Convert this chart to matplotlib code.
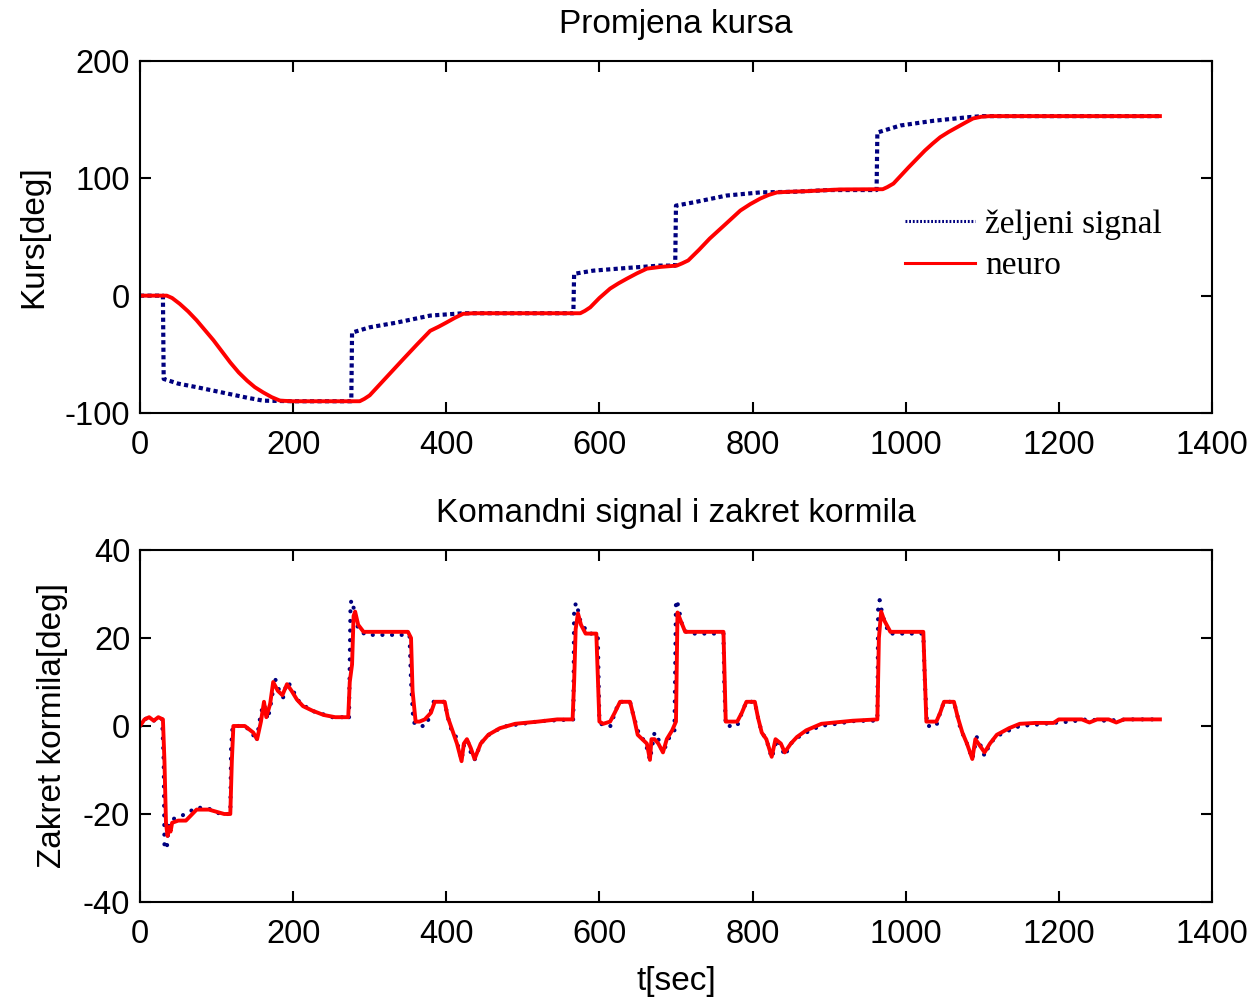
import matplotlib
matplotlib.use("Agg")
import matplotlib.pyplot as plt
from matplotlib.lines import Line2D

# --- course (top panel) ---
course_ref_t = [0, 30, 31, 50, 74, 96, 118, 140, 161, 200, 276, 277, 300, 335, 379, 422,
                566, 567, 592, 636, 679, 699, 700, 723, 766, 810, 853, 900, 962, 963,
                993, 1036, 1080, 1100, 1332]
course_ref = [0, 0, -71, -75, -78, -81, -84, -87, -89.5, -90, -90, -31.5, -27, -23, -17, -15,
              -15, 18.6, 21.3, 23.6, 25.6, 25.6, 76.7, 79.5, 85.3, 88, 88.5, 90, 90, 139,
              145, 149, 152, 153, 153]

course_nn_t = [0, 35, 42, 52, 63, 74, 85, 96, 107, 118, 129, 140, 150, 161, 172, 183, 200,
               287, 293, 300, 322, 344, 362, 379, 390, 400, 411, 422, 435, 575, 581, 588,
               600, 614, 625, 636, 649, 662, 680, 701, 708, 716, 730, 744, 764, 784, 797,
               810, 821, 832, 850, 870, 914, 970, 976, 984, 1004, 1025, 1035, 1045, 1056,
               1067, 1078, 1088, 1099, 1110, 1332]
course_nn = [0, 0, -2, -7, -13.5, -21, -29.5, -38, -47.5, -57, -65.5, -72.5, -78, -82.5,
             -86.5, -89.5, -90, -90, -88, -85, -69.5, -54, -41.5, -30, -26.5, -23, -19,
             -15.5, -15, -15, -13, -10, -2, 6, 10.5, 14.5, 19, 23, 24.5, 25.6, 27.5, 30,
             39, 48.6, 60.5, 72.5, 78, 82.7, 85.8, 88, 88.6, 89, 90.5, 90.7, 92.5, 95.5,
             109.5, 123.6, 129.5, 135, 139.5, 143.5, 147.5, 151, 152.5, 153, 153]

# --- rudder (bottom panel) ---
cmd_t = [0, 6, 12, 18, 24, 29, 31, 32, 35, 38, 45, 60, 74, 90, 105, 118, 119, 121, 135, 145,
         152, 158, 162, 167, 172, 176, 182, 187, 192, 198, 205, 213, 222, 235, 248, 265, 273,
         275, 277, 280, 285, 295, 352, 354, 357, 362, 373, 378, 383, 398, 402, 407, 412, 416,
         420, 424, 428, 432, 437, 445, 453, 465, 479, 500, 522, 545, 566, 567, 570, 575, 585,
         595, 598, 600, 605, 615, 620, 626, 640, 645, 652, 657, 662, 666, 672, 677, 683, 688,
         692, 698, 700, 702, 708, 715, 762, 763, 765, 780, 786, 792, 803, 807, 812, 818, 825,
         832, 837, 842, 850, 858, 870, 888, 910, 931, 950, 963, 964, 966, 970, 978, 1023, 1025,
         1028, 1040, 1045, 1050, 1063, 1068, 1072, 1078, 1084, 1087, 1093, 1098, 1103, 1110,
         1119, 1135, 1149, 1170, 1193, 1215, 1236, 1260, 1290, 1310, 1332]
cmd = [0, 1.5, 2, 1.2, 2, 1.5, -8, -27, -28, -22, -21, -20, -18.5, -18.8, -20, -20, -5, 0, 0, -1,
       -3.5, 3, 5, 1.5, 6, 11, 8, 6.5, 10, 9, 6, 5, 3.5, 3, 2, 2, 1.5,
       28, 28.6, 26, 22, 20.7, 20.7, 10, 1, 0, 0, 2, 5.5, 5.5, 2, -1, -2, -5,
       -7.7, -3.5, -3.3, -6, -7.7, -4, -2.3, -1, 0, 0.5, 1.1, 1.3, 1.5, 27, 28, 24, 21,
       21, 20, 1, 0, 0, 3, 5.5, 5.5, 2, -2, -3, -5, -7.7, -1.5, -3, -6, -4,
       -2.3, -1, 28.6, 28, 23, 21, 21, 10, 0, 0, 3, 5.5, 5.5, 2, -1.5, -3, -7.3,
       -3, -4.5, -6.8, -4, -2.7, -1.5, 0, 0.5, 1.1, 1.2, 1.2, 27, 28.6, 25, 21, 21, 10,
       0, 0, 3, 5.5, 5.5, 2, -1, -3, -6, -7.5, -2.5, -4.5, -6.8, -4,
       -2.3, -1, 0, 0.3, 0.7, 1, 1.5, 1.2, 1.5, 1.5, 1.5]

rud_t = [0, 6, 12, 18, 24, 30, 32, 34, 36, 38, 40, 42, 50, 60, 74, 90, 100, 110, 118, 120, 122,
         137, 148, 153, 158, 162, 165, 170, 174, 180, 186, 192, 198, 205, 213, 225, 240, 255,
         272, 274, 277, 279, 281, 285, 292, 350, 354, 356, 360, 365, 372, 380, 385, 398, 402,
         408, 414, 420, 423, 427, 432, 437, 445, 455, 470, 490, 520, 545, 565, 567, 569, 572,
         576, 582, 596, 600, 605, 614, 620, 627, 640, 645, 650, 656, 662, 666, 668, 672, 677,
         683, 688, 695, 700, 702, 706, 712, 762, 765, 780, 786, 792, 803, 807, 812, 818, 825,
         830, 837, 842, 850, 858, 870, 890, 931, 963, 965, 968, 972, 980, 1023, 1027, 1040,
         1045, 1050, 1063, 1068, 1074, 1080, 1087, 1091, 1095, 1103, 1110, 1119, 1135, 1149,
         1170, 1193, 1200, 1230, 1240, 1250, 1265, 1275, 1285, 1310, 1332]
rud = [0, 1.5, 2, 1.2, 2, 1.5, -8, -22, -25, -23, -24, -22, -21.5, -21.5, -19, -19, -19.5, -20,
       -20, -8, 0, 0, -1.5, -3, 1, 5.5, 2, 5, 10, 8, 7, 9.5, 8, 6, 4.5, 3.5, 2.5, 2,
       2, 10, 14, 25, 26, 23, 21.4, 21.4, 20, 8, 1, 1, 1.5, 3, 5.5, 5.5, 2,
       -1, -4, -8, -4, -3, -5, -7.5, -4, -2, -0.5, 0.5, 1, 1.5, 1.5, 10, 22, 25.6,
       23, 21, 21, 1, 0.5, 1, 3, 5.5, 5.5, 2, -2, -3, -4, -7.7, -3, -3, -4,
       -6, -3, -1, 1, 25.8, 24, 21.4, 21.4, 1, 1, 3, 5.5, 5.5, 2, -1.5, -3, -7,
       -3, -4, -6, -4, -2.5, -1, 0.5, 1.2, 1.5, 20, 26, 24, 21.4, 21.4, 1, 1,
       3, 5.5, 5.5, 2, -1.5, -4, -7.5, -3, -4, -6, -4, -2, -0.5, 0.5,
       0.7, 0.7, 1.5, 1.5, 0.8, 1.5, 1.5, 0.8, 1.5, 1.5, 1.5]

xticks = [0, 200, 400, 600, 800, 1000, 1200, 1400]
labels = ['željeni signal', 'neuro']

NAVY = '#00007f'
RED = '#ff0000'
plt.rcParams['font.family'] = ['Liberation Sans', 'DejaVu Sans']
plt.rcParams['font.size'] = 24
plt.rcParams['axes.unicode_minus'] = False

fig = plt.figure(figsize=(12.54, 9.98), dpi=100)
ax1 = fig.add_axes([0.1116, 0.5862, 0.8549, 0.3527])
ax2 = fig.add_axes([0.1116, 0.0962, 0.8549, 0.3527])


def style(ax):
    ax.set_xlim(0, 1400)
    ax.set_xticks(xticks)
    ax.tick_params(direction='in', length=8, width=1.5, top=True, right=True, labelsize=23.5)
    ax.tick_params(axis='x', pad=12)
    ax.tick_params(axis='y', pad=7)
    for s in ax.spines.values():
        s.set_linewidth(1.5)


ax1.plot(course_ref_t, course_ref, color=NAVY, lw=3, dashes=(1, 0.8))
ax1.plot(course_nn_t, course_nn, color=RED, lw=2.8)
style(ax1)
ax1.set_ylim(-100, 200)
ax1.set_yticks([-100, 0, 100, 200])
ax1.set_title('Promjena kursa', fontsize=24, pad=20)
ax1.set_ylabel('Kurs[deg]', fontsize=24, labelpad=11)

handles = [Line2D([], [], color=NAVY, lw=2.2, dashes=(0.6, 0.6)),
           Line2D([], [], color=RED, lw=2.2)]
ax1.legend(handles, labels, loc='upper left', bbox_to_anchor=(0.7136, 0.578),
           frameon=False, borderpad=0, borderaxespad=0, handlelength=2.1,
           handletextpad=0.3, labelspacing=0.32,
           prop={'family': 'Liberation Serif', 'size': 24})

ax2.plot(cmd_t, cmd, color=NAVY, lw=3, dashes=(0.01, 2.3), dash_capstyle='round')
ax2.plot(rud_t, rud, color=RED, lw=2.8)
style(ax2)
ax2.set_ylim(-40, 40)
ax2.set_yticks([-40, -20, 0, 20, 40])
ax2.set_title('Komandni signal i zakret kormila', fontsize=24, pad=20)
ax2.set_ylabel('Zakret kormila[deg]', fontsize=24, labelpad=11)
ax2.set_xlabel('t[sec]', fontsize=24, labelpad=12)

fig.savefig('out.png', dpi=100)
